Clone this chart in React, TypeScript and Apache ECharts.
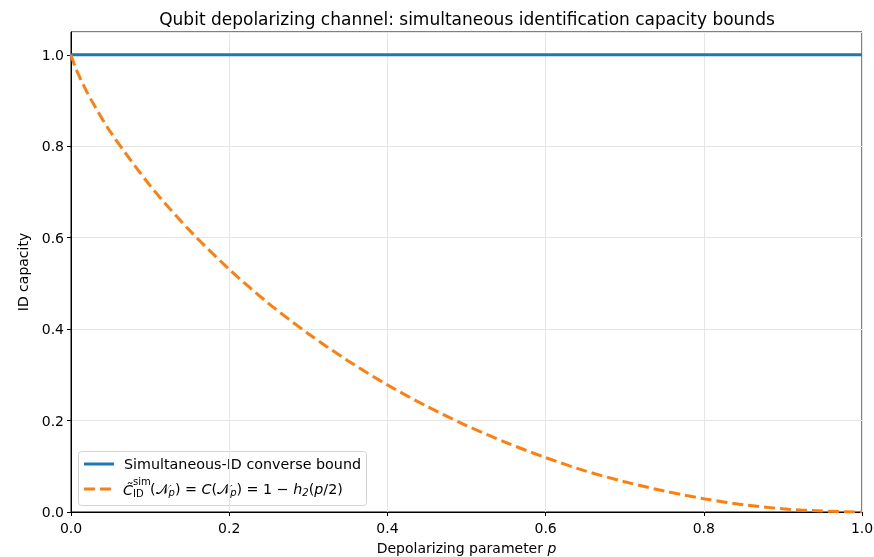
import React, { useEffect, useRef } from "react";
import * as echarts from "echarts";

const TITLE = "Qubit depolarizing channel: simultaneous identification capacity bounds";
const X_TICKS = [0, 0.2, 0.4, 0.6, 0.8, 1.0];
const Y_TICKS = [0, 0.2, 0.4, 0.6, 0.8, 1.0];
const P_VALUES = [0, 0.005, 0.01, 0.02, 0.03, 0.05, 0.1, 0.15, 0.2, 0.25, 0.3, 0.35, 0.4, 0.45, 0.5, 0.55, 0.6, 0.65, 0.7, 0.75, 0.8, 0.85, 0.9, 0.95, 1.0];
const CONVERSE_BOUND = [1, 1, 1, 1, 1, 1, 1, 1, 1, 1, 1, 1, 1, 1, 1, 1, 1, 1, 1, 1, 1, 1, 1, 1, 1];
const SIM_CAPACITY = [1.0, 0.975, 0.955, 0.919, 0.888, 0.831, 0.714, 0.616, 0.531, 0.456, 0.390, 0.331, 0.278, 0.231, 0.189, 0.152, 0.119, 0.090, 0.066, 0.046, 0.029, 0.016, 0.007, 0.002, 0.0];
const LEGEND_1 = "Simultaneous-ID converse bound";

const FONT = "DejaVu Sans";

export default function App() {
  const ref = useRef<HTMLDivElement>(null);
  useEffect(() => {
    if (!ref.current) return;
    const chart = echarts.init(ref.current, null, { renderer: "svg" });
    const lineData = (ys: number[]) => P_VALUES.map((p, i) => [p, ys[i]]);
    const isTick = (arr: number[], v: number) => arr.some((t) => Math.abs(t - v) < 1e-9);
    chart.setOption({
      animation: false,
      textStyle: { fontFamily: FONT },
      title: {
        text: TITLE,
        left: 462,
        top: 5,
        textAlign: "center",
        textStyle: { fontFamily: FONT, fontSize: 17, fontWeight: "normal", color: "#000" },
      },
      grid: {
        left: 71,
        right: 12,
        top: 32,
        bottom: 45,
        outerBoundsMode: "none",
        containLabel: false,
        show: true,
        borderColor: "#000",
        borderWidth: 1,
        backgroundColor: "transparent",
      },
      xAxis: {
        type: "value",
        min: 0,
        max: 1,
        interval: 0.2,
        name: "Depolarizing parameter {i|p}",
        nameLocation: "middle",
        nameGap: 29,
        nameTextStyle: {
          fontFamily: FONT,
          fontSize: 14,
          color: "#000",
          rich: { i: { fontFamily: FONT, fontSize: 14, fontStyle: "italic", color: "#000" } },
        },
        axisLine: { show: true, onZero: false, lineStyle: { color: "#000", width: 1 } },
        axisTick: { show: true, length: 4, lineStyle: { color: "#000" } },
        axisLabel: {
          fontFamily: FONT,
          fontSize: 14,
          color: "#000",
          margin: 9,
          formatter: (v: number) => (isTick(X_TICKS, v) ? v.toFixed(1) : ""),
        },
        splitLine: { show: true, lineStyle: { color: "#e6e6e6", width: 1 } },
      },
      yAxis: {
        type: "value",
        min: 0,
        max: 1.05,
        interval: 0.2,
        name: "ID capacity",
        nameLocation: "middle",
        nameGap: 41,
        nameTextStyle: { fontFamily: FONT, fontSize: 14, color: "#000" },
        axisLine: { show: true, onZero: false, lineStyle: { color: "#000", width: 1 } },
        axisTick: { show: true, length: 4, lineStyle: { color: "#000" } },
        axisLabel: {
          fontFamily: FONT,
          fontSize: 14,
          color: "#000",
          margin: 7,
          showMaxLabel: false,
          formatter: (v: number) => (isTick(Y_TICKS, v) ? v.toFixed(1) : ""),
        },
        splitLine: { show: true, lineStyle: { color: "#e6e6e6", width: 1 } },
      },
      series: [
        {
          name: LEGEND_1,
          type: "line",
          data: lineData(CONVERSE_BOUND),
          showSymbol: false,
          symbol: "none",
          lineStyle: { color: "#1f77b4", width: 3 },
          z: 3,
        },
        {
          name: "sim",
          type: "line",
          data: lineData(SIM_CAPACITY),
          showSymbol: false,
          symbol: "none",
          smooth: 0.3,
          lineStyle: { color: "#ff7f0e", width: 3, type: [11, 5] },
          z: 4,
        },
      ],
      graphic: [
        {
          type: "group",
          z: 100,
          children: [
            {
              type: "rect",
              shape: { x: 78.5, y: 451.5, width: 288, height: 54, r: 3 },
              style: { fill: "rgba(255,255,255,0.8)", stroke: "#d3d3d3", lineWidth: 1 },
            },
            {
              type: "line",
              shape: { x1: 84, y1: 464, x2: 114, y2: 464 },
              style: { stroke: "#1f77b4", lineWidth: 3 },
            },
            {
              type: "text",
              x: 124,
              y: 464,
              style: { text: LEGEND_1, fontFamily: FONT, fontSize: 14.3, fill: "#000", verticalAlign: "middle", align: "left" },
            },
            {
              type: "line",
              shape: { x1: 84, y1: 489, x2: 114, y2: 489 },
              style: { stroke: "#ff7f0e", lineWidth: 3, lineDash: [11, 5] },
            },
            {
              type: "text",
              x: 123,
              y: 490,
              style: { text: "C\u0303", fontFamily: FONT, fontSize: 14.3, fontStyle: "italic", fill: "#000", verticalAlign: "middle", align: "left" },
            },
            {
              type: "text",
              x: 133,
              y: 481,
              style: { text: "sim", fontFamily: FONT, fontSize: 10, fill: "#000", verticalAlign: "middle", align: "left" },
            },
            {
              type: "text",
              x: 133,
              y: 493,
              style: { text: "ID", fontFamily: FONT, fontSize: 10, fill: "#000", verticalAlign: "middle", align: "left" },
            },
            {
              type: "text",
              x: 150,
              y: 489,
              style: {
                text: "(\u{1D4A9}{s|p}) = {i|C}(\u{1D4A9}{s|p}) = 1 \u2212 {i|h}{s|2}({i|p}/2)",
                fontFamily: FONT,
                fontSize: 14.3,
                fill: "#000",
                verticalAlign: "middle",
                align: "left",
                rich: {
                  i: { fontFamily: FONT, fontSize: 14.3, fontStyle: "italic", lineHeight: 17 },
                  s: { fontFamily: FONT, fontSize: 10, fontStyle: "italic", verticalAlign: "bottom", lineHeight: 17 },
                },
              },
            },
          ],
        },
      ],
    });
    return () => chart.dispose();
  }, []);
  return <div ref={ref} style={{ position: "fixed", left: 0, top: 0, width: 874, height: 557 }} />;
}
